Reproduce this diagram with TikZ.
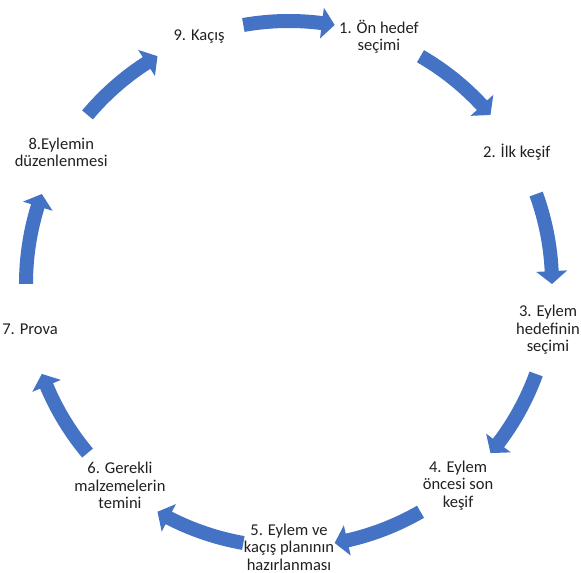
\documentclass[tikz,border=0pt]{standalone}
\usepackage{fontspec}
\setmainfont{Carlito}
\definecolor{arrowblue}{HTML}{4472C4}
\definecolor{txt}{HTML}{202020}
\newcommand\cyclearrow[1]{%
  \fill[arrowblue] ({#1+10}:{\R+7}) arc[start angle={#1+10}, end angle={#1-7.2}, radius={\R+7}]
    -- ({#1-7.2}:{\R+15.5}) -- ({#1-10}:\R) -- ({#1-7.2}:{\R-15.5})
    -- ({#1-7.2}:{\R-7}) arc[start angle={#1-7.2}, end angle={#1+10}, radius={\R-7}] -- cycle;}
\begin{document}
\begin{tikzpicture}[x=0.75pt,y=0.75pt,
  lbl/.style={align=center,font=\fontsize{12.4}{13.2}\selectfont,inner sep=0pt,text=txt}]
\useasboundingbox (-289,-289) rectangle (292,284);
\def\R{263}
\node[lbl] (n1) at (70:\R) {1. Ön hedef\\seçimi};
\node[lbl] (n2) at (30:\R) {2. İlk keşif};
\node[lbl] (n3) at (-10:\R) {3. Eylem\\hedefinin\\seçimi};
\node[lbl] (n4) at (-50:\R) {4. Eylem\\öncesi son\\keşif};
\node[lbl] (n5) at (-90:\R) {5. Eylem ve\\kaçış planının\\hazırlanması};
\node[lbl] (n6) at (-130:\R) {6. Gerekli\\malzemelerin\\temini};
\node[lbl] (n7) at (-170:\R) {7. Prova};
\node[lbl] (n8) at (150:\R) {8.Eylemin\\düzenlenmesi};
\node[lbl] (n9) at (110:\R) {9. Kaçış};
\foreach \m in {50,10,-30,-70,-110,-150,170,130,90}{\cyclearrow{\m}}
\end{tikzpicture}
\end{document}
